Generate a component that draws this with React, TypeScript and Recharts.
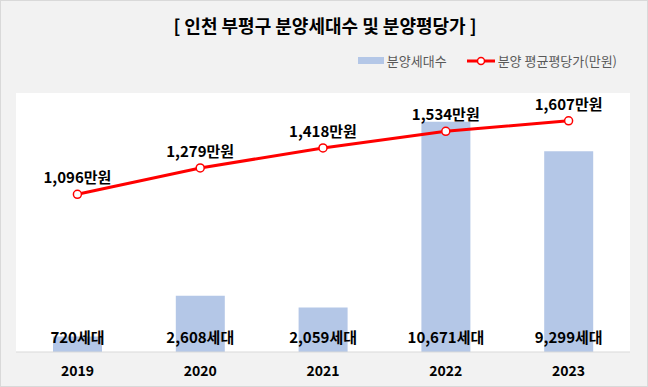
import { FC } from "react";
import {
  ComposedChart,
  Bar,
  Line,
  XAxis,
  YAxis,
  CartesianGrid,
  LabelList,
} from "recharts";

const years = ["2019", "2020", "2021", "2022", "2023"];
const households = [720, 2608, 2059, 10671, 9299];
const pricePerPyeong = [1096, 1279, 1418, 1534, 1607];

const data = years.map((year, i) => ({
  year,
  households: households[i],
  price: pricePerPyeong[i],
}));

const FONT = '"Noto Sans CJK KR", "Noto Sans", sans-serif';

const App: FC = () => {
  return (
    <div
      style={{
        position: "absolute",
        left: 0,
        top: 0,
        width: 648,
        height: 387,
        background: "#f2f2f2",
        boxSizing: "border-box",
        border: "1px solid #d9d9d9",
        fontFamily: FONT,
      }}
    >
      <div
        style={{
          position: "absolute",
          top: 11,
          left: 0,
          width: 648,
          textAlign: "center",
          fontSize: 18,
          fontWeight: "bold",
          color: "#000",
        }}
      >
        [ 인천 부평구 분양세대수 및 분양평당가 ]
      </div>

      {/* legend */}
      <div
        style={{
          position: "absolute",
          top: 50,
          right: 30,
          display: "flex",
          alignItems: "center",
          fontSize: 13,
          color: "#595959",
        }}
      >
        <span
          style={{
            display: "inline-block",
            width: 26,
            height: 7,
            background: "#b4c7e7",
            marginRight: 3,
          }}
        />
        <span>분양세대수</span>
        <svg width={28} height={10} style={{ marginLeft: 20, marginRight: 3 }}>
          <line x1={0} y1={5} x2={28} y2={5} stroke="#ff0000" strokeWidth={3} />
          <circle cx={14} cy={5} r={3.5} fill="#fff" stroke="#ff0000" strokeWidth={1.5} />
        </svg>
        <span>분양 평균평당가(만원)</span>
      </div>

      <ComposedChart
        width={646}
        height={385}
        data={data}
        margin={{ top: 92, right: 17, left: 15, bottom: 0 }}
        style={{ position: "absolute", left: 0, top: 0 }}
      >
        <CartesianGrid fill="#ffffff" stroke="none" horizontal={false} vertical={false} />
        <XAxis
          dataKey="year"
          height={34}
          axisLine={{ stroke: "#d9d9d9", strokeWidth: 1 }}
          tickLine={false}
          tick={{ fill: "#000", fontSize: 14, fontWeight: "bold", fontFamily: FONT }}
          dy={6}
        />
        <YAxis yAxisId="left" hide domain={[0, 12000]} />
        <YAxis yAxisId="right" orientation="right" hide domain={[0, 1800]} />
        <Bar
          yAxisId="left"
          dataKey="households"
          fill="#b4c7e7"
          barSize={49}
          isAnimationActive={false}
        >
          <LabelList
            dataKey="households"
            position="insideBottom"
            offset={9}
            formatter={(v: number) => `${v.toLocaleString("en-US")}세대`}
            style={{ fill: "#000", fontSize: 15, fontWeight: "bold", fontFamily: FONT }}
          />
        </Bar>
        <Line
          yAxisId="right"
          dataKey="price"
          stroke="#ff0000"
          strokeWidth={3}
          dot={{ r: 4, fill: "#fff", stroke: "#ff0000", strokeWidth: 1.5 }}
          isAnimationActive={false}
        >
          <LabelList
            dataKey="price"
            position="top"
            offset={11}
            formatter={(v: number) => `${v.toLocaleString("en-US")}만원`}
            style={{ fill: "#000", fontSize: 15, fontWeight: "bold", fontFamily: FONT }}
          />
        </Line>
      </ComposedChart>
    </div>
  );
};

export default App;
